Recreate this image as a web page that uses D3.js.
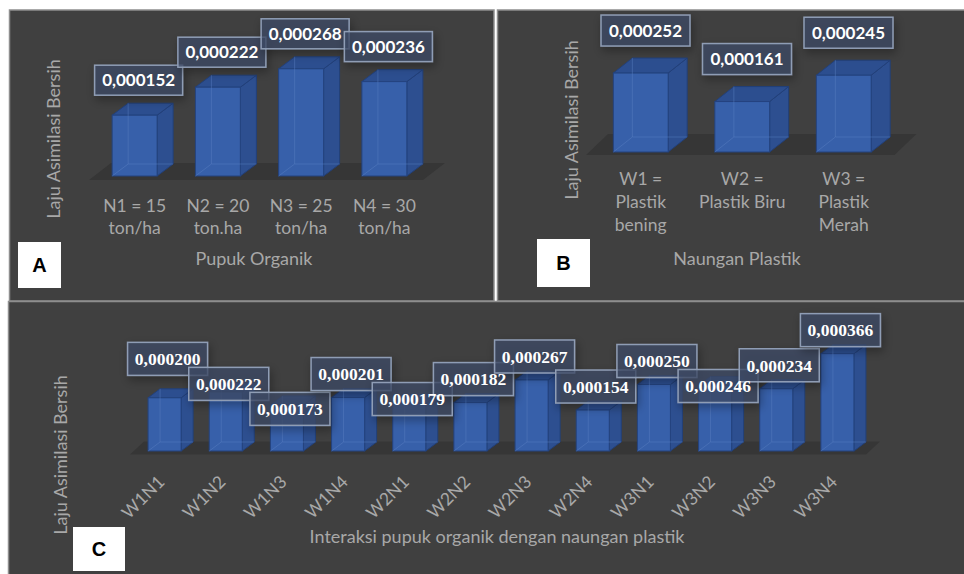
<!DOCTYPE html>
<html><head><meta charset="utf-8">
<script src="https://cdn.jsdelivr.net/npm/d3@7/dist/d3.min.js"></script>
<style>body{margin:0;background:#fff;overflow:hidden}svg{display:block}</style>
</head><body>
<svg id="chart" width="964" height="574"></svg>
<script>
// ---------- DATA ----------
const categoriesA = [["N1 = 15","ton/ha"],["N2 = 20","ton.ha"],["N3 = 25","ton/ha"],["N4 = 30","ton/ha"]];
const valuesA = [0.000152, 0.000222, 0.000268, 0.000236];
const axisTitleA = "Pupuk Organik";

const categoriesB = [["W1 =","Plastik","bening"],["W2 =","Plastik Biru"],["W3 =","Plastik","Merah"]];
const valuesB = [0.000252, 0.000161, 0.000245];
const axisTitleB = "Naungan Plastik";

const categoriesC = ["W1N1","W1N2","W1N3","W1N4","W2N1","W2N2","W2N3","W2N4","W3N1","W3N2","W3N3","W3N4"];
const valuesC = [0.000200, 0.000222, 0.000173, 0.000201, 0.000179, 0.000182, 0.000267, 0.000154, 0.000250, 0.000246, 0.000234, 0.000366];
const axisTitleC = "Interaksi pupuk organik dengan naungan plastik";

const yTitle = "Laju Asimilasi Bersih";
const panelLetters = ["A","B","C"];

// ---------- STYLE ----------
const BG = "#404040", BORDER = "#8e8e8e", TXT = "#a8a8a8";
const SANS = "Lato, 'Open Sans', sans-serif";
const fmt = v => d3.format(".6f")(v).replace(".", ",");

const svg = d3.select("#chart");
const defs = svg.append("defs");
const f = defs.append("filter").attr("id","sh").attr("x","-30%").attr("y","-40%").attr("width","160%").attr("height","200%");
f.append("feDropShadow").attr("dx",2).attr("dy",4).attr("stdDeviation",5).attr("flood-color","#000").attr("flood-opacity",0.4);

svg.append("rect").attr("x",0).attr("y",0).attr("width",964).attr("height",574).attr("fill","#fff");
function panelRect(x,y,w,h){
  svg.append("rect").attr("x",x).attr("y",y).attr("width",w).attr("height",h)
    .attr("fill",BG).attr("stroke",BORDER).attr("stroke-width",1.5);
}
panelRect(9.5,10,484.5,291);
panelRect(497.5,10,470,291);
panelRect(8.5,301.5,960,280);

function drawPanel(o){
  const g = svg.append("g");
  const xs = d3.scaleBand().domain(o.cats.map((c,i)=>i)).range([o.x0,o.x1]).paddingInner(0.46).paddingOuter(0.23);
  const ys = d3.scaleLinear().domain([0,o.yMax]).range([o.yBase,o.yTop]);
  const w = xs.bandwidth(), dx = o.dx, dy = o.dy, y0 = ys(0);

  // floor
  const fy = y0 + o.floorOff, fx0 = o.x0 - 4, fx1 = o.x1 - o.floorShrink;
  g.append("polygon").attr("points",[[fx0,fy],[fx1,fy],[fx1+o.fdx,fy-o.fdy],[fx0+o.fdx,fy-o.fdy]].join(" "))
    .attr("fill","#363636");

  // bars
  o.vals.forEach((v,i)=>{
    const x = xs(i), yt = ys(v);
    const bg = g.append("g");
    bg.append("polygon").attr("points",[[x+w,yt],[x+w+dx,yt-dy],[x+w+dx,y0-dy],[x+w,y0]].join(" "))
      .attr("fill","#2d4f90").attr("stroke","#22407a").attr("stroke-width",1);
    bg.append("polygon").attr("points",[[x,yt],[x+dx,yt-dy],[x+w+dx,yt-dy],[x+w,yt]].join(" "))
      .attr("fill","#2c4e8f").attr("stroke","#22407a").attr("stroke-width",1);
    bg.append("rect").attr("x",x).attr("y",yt).attr("width",w).attr("height",y0-yt)
      .attr("fill","#3760aa").attr("stroke","#24437f").attr("stroke-width",1);
    const ln = [[x+dx,yt-dy,x+dx,y0-dy],[x+dx,y0-dy,x+w+dx,y0-dy],[x,y0,x+dx,y0-dy]];
    ln.forEach(l=>bg.append("line").attr("x1",l[0]).attr("y1",l[1]).attr("x2",l[2]).attr("y2",l[3])
      .attr("stroke","#5a80c4").attr("stroke-opacity",0.45).attr("stroke-width",1));
  });

  // category axis
  const ax = g.append("g").attr("transform",`translate(0,${o.axisY})`)
    .call(d3.axisBottom(xs).tickSize(0).tickFormat(i=>Array.isArray(o.cats[i])?"":o.cats[i]));
  ax.select(".domain").remove();
  ax.selectAll("text").attr("fill",TXT).attr("font-family",SANS).attr("font-size",17.5);
  if (o.rotate){
    ax.selectAll(".tick text").attr("text-anchor","end").attr("dy",0).attr("y",0)
      .attr("transform",`translate(1,0) rotate(-45)`);
  } else {
    ax.selectAll(".tick text").each(function(i){
      const t = d3.select(this).attr("y",0).attr("dy",0);
      o.cats[i].forEach((s,k)=>t.append("tspan").attr("x",0).attr("y",k*o.lineH).text(s));
    });
  }

  // axis titles
  g.append("text").attr("x",o.xTitle[0]).attr("y",o.xTitle[1]).attr("text-anchor","middle")
    .attr("fill",TXT).attr("font-family",SANS).attr("font-size",18).text(o.xTitleText);
  g.append("text").attr("transform",`translate(${o.yTitle[0]},${o.yTitle[1]}) rotate(-90)`)
    .attr("text-anchor","middle").attr("dominant-baseline","central")
    .attr("fill",TXT).attr("font-family",SANS).attr("font-size",18).text(yTitle);

  // data labels with simple collision avoidance
  const boxes = o.vals.map((v,i)=>({x:xs(i)+w/2-o.lw/2+dx/4, w:o.lw, h:o.lh, y:ys(v)-o.gap-o.lh, v}));
  const SEP = 25, THRESH = 15;
  for (let i=1;i<boxes.length;i++){
    const b=boxes[i], p=boxes[i-1];
    const xo = Math.min(b.x+b.w,p.x+p.w)-Math.max(b.x,p.x);
    if (xo<=10) continue;
    const yo = Math.min(b.y+b.h,p.y+p.h)-Math.max(b.y,p.y);
    if (yo<=THRESH) continue;
    if (b.y < p.y - 3){
      const need = SEP - (b.y - p.y);
      p.y -= need/2; b.y += need/2;
    } else {
      b.y = Math.max(b.y, p.y + SEP);
    }
  }
  const lg = g.append("g");
  boxes.forEach(b=>{
    lg.append("rect").attr("x",b.x).attr("y",b.y).attr("width",b.w).attr("height",b.h)
      .attr("fill","#3d4b66").attr("fill-opacity",0.72).attr("stroke","#8f9db5").attr("stroke-width",1.5)
      .attr("filter","url(#sh)");
  });
  boxes.forEach(b=>{
    lg.append("text").attr("x",b.x+b.w/2).attr("y",b.y+b.h/2).attr("dy","0.36em").attr("text-anchor","middle")
      .attr("fill","#fff").attr("font-family",o.lfont).attr("font-weight","bold").attr("font-size",o.lsize)
      .text(fmt(b.v));
  });

  // panel letter
  g.append("rect").attr("x",o.letterBox[0]).attr("y",o.letterBox[1]).attr("width",o.letterBox[2]).attr("height",o.letterBox[3])
    .attr("fill","#fff");
  g.append("text").attr("x",o.letterBox[0]+o.letterBox[2]/2).attr("y",o.letterBox[1]+o.letterBox[3]/2)
    .attr("dy","0.36em").attr("text-anchor","middle").attr("font-family","'Liberation Sans', Arial, sans-serif")
    .attr("font-weight","bold").attr("font-size",20).attr("fill","#000").text(o.letter);
}

drawPanel({cats:categoriesA, vals:valuesA, x0:93, x1:426, yBase:176, yTop:56, yMax:0.0003,
  dx:16, dy:12, floorOff:4, fdx:22, fdy:17, floorShrink:3,
  axisY:212, lineH:22, xTitle:[254,265], xTitleText:axisTitleA, yTitle:[53,139],
  lw:88, lh:30, gap:20, lfont:SANS, lsize:17, letterBox:[18,242,43,46], letter:panelLetters[0]});

drawPanel({cats:categoriesB, vals:valuesB, x0:590, x1:894.5, yBase:152, yTop:58, yMax:0.0003,
  dx:19, dy:15, floorOff:3, fdx:22, fdy:21, floorShrink:0,
  axisY:185, lineH:23, xTitle:[737,265], xTitleText:axisTitleB, yTitle:[571,120],
  lw:89, lh:31, gap:27, lfont:SANS, lsize:17, letterBox:[537,239,53,48], letter:panelLetters[1]});

drawPanel({cats:categoriesC, vals:valuesC, x0:134, x1:868, yBase:451, yTop:344.6, yMax:0.0004,
  dx:12, dy:9, floorOff:3.5, fdx:14, fdy:13, floorShrink:2, rotate:true,
  axisY:483, lineH:0, xTitle:[497,543], xTitleText:axisTitleC, yTitle:[60,455],
  lw:80, lh:33, gap:7, lfont:"'Liberation Serif', 'Times New Roman', serif", lsize:17.5, letterBox:[73,527,52,44], letter:panelLetters[2]});
</script>
</body></html>
